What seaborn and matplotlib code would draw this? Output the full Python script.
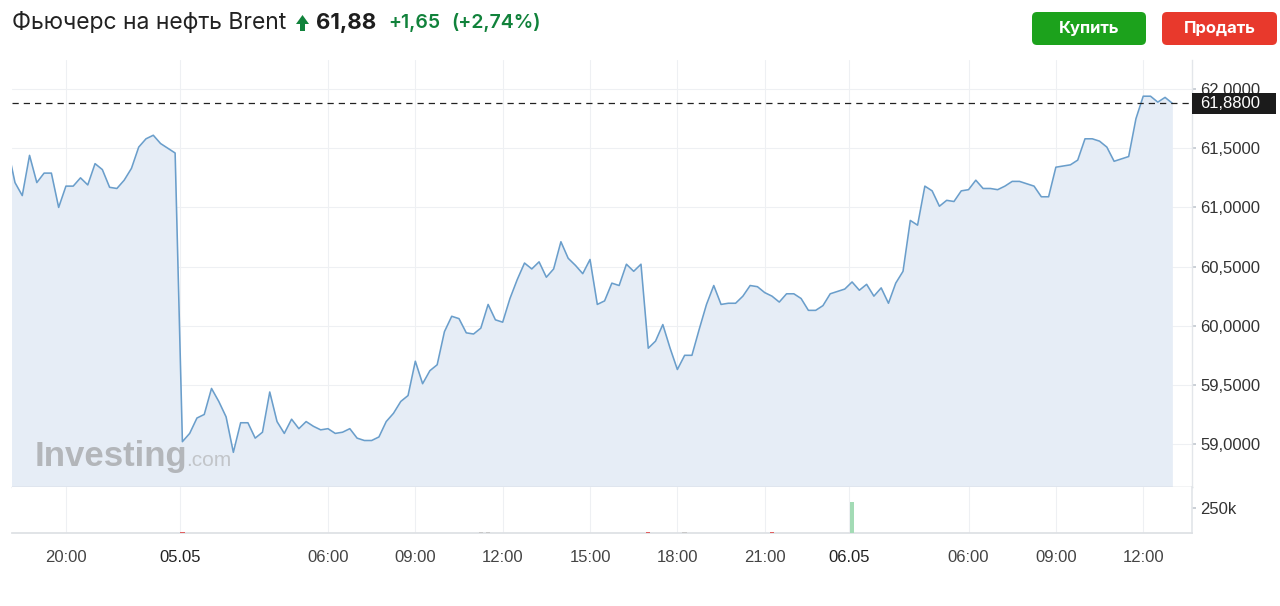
import matplotlib
matplotlib.use("Agg")
import matplotlib.pyplot as plt
import seaborn as sns
import numpy as np
import pandas as pd
from matplotlib.patches import FancyBboxPatch, Rectangle, Polygon
from matplotlib.ticker import FuncFormatter
from matplotlib.transforms import blended_transform_factory

# ---------------- data ----------------
prices = [
    61.50, 61.21, 61.10, 61.44, 61.21, 61.29, 61.29, 61.00, 61.18, 61.18,
    61.25, 61.19, 61.37, 61.32, 61.17, 61.16, 61.23, 61.33, 61.51, 61.58,
    61.61, 61.54, 61.50, 61.46, 59.02, 59.09, 59.22, 59.25, 59.47, 59.36,
    59.23, 58.93, 59.18, 59.18, 59.05, 59.10, 59.44, 59.19, 59.09, 59.21,
    59.13, 59.19, 59.15, 59.12, 59.13, 59.09, 59.10, 59.13, 59.05, 59.03,
    59.03, 59.06, 59.19, 59.26, 59.36, 59.41, 59.70, 59.51, 59.62, 59.67,
    59.95, 60.08, 60.06, 59.94, 59.93, 59.98, 60.18, 60.05, 60.03, 60.23,
    60.39, 60.53, 60.48, 60.54, 60.41, 60.48, 60.71, 60.57, 60.51, 60.44,
    60.56, 60.18, 60.21, 60.36, 60.34, 60.52, 60.46, 60.52, 59.81, 59.87,
    60.01, 59.81, 59.63, 59.75, 59.75, 59.97, 60.18, 60.34, 60.18, 60.19,
    60.19, 60.25, 60.34, 60.33, 60.28, 60.25, 60.20, 60.27, 60.27, 60.23,
    60.13, 60.13, 60.17, 60.27, 60.29, 60.31, 60.37, 60.30, 60.35, 60.25,
    60.32, 60.19, 60.36, 60.46, 60.89, 60.85, 61.18, 61.14, 61.01, 61.06,
    61.05, 61.14, 61.15, 61.23, 61.16, 61.16, 61.15, 61.18, 61.22, 61.22,
    61.20, 61.18, 61.09, 61.09, 61.34, 61.35, 61.36, 61.40, 61.58, 61.58,
    61.56, 61.51, 61.39, 61.41, 61.43, 61.75, 61.94, 61.94, 61.89, 61.93,
    61.88,
]
tick_pos = [8, 23.7, 44, 56, 68, 80, 92, 104, 115.6, 132, 144, 156]
tick_labels = ["20:00", "05.05", "06:00", "09:00", "12:00", "15:00",
               "18:00", "21:00", "06.05", "06:00", "09:00", "12:00"]
date_labels = {"05.05", "06.05"}
y_ticks = [59.0, 59.5, 60.0, 60.5, 61.0, 61.5, 62.0]
vol_idx = [24, 65, 66, 88, 93, 105, 116]
vol_val = [14000, 7000, 7000, 6000, 6000, 7000, 310000]
vol_kind = ["down", "flat", "flat", "down", "flat", "down", "up"]
vol_ticks = [250000]
last_price = 61.88
title = "Фьючерс на нефть Brent"
price_txt = "61,88"
change_txt = "+1,65"
pct_txt = "(+2,74%)"

# ---------------- style ----------------
sns.set_theme(style="white")
plt.rcParams["font.family"] = ["Liberation Sans", "DejaVu Sans"]

W, H = 1280, 606
fig = plt.figure(figsize=(W / 100, H / 100), dpi=100)
fig.patch.set_facecolor("white")

def fx(px):
    return px / W

def fy(py):
    return 1 - py / H

x_left, x_right = 12, 1192
main_top, main_bot, vol_bot = 60, 487, 533
ax = fig.add_axes([fx(x_left), fy(main_bot), fx(x_right) - fx(x_left), (main_bot - main_top) / H])
axv = fig.add_axes([fx(x_left), fy(vol_bot), fx(x_right) - fx(x_left), (vol_bot - main_bot) / H], sharex=ax)

grid_c = "#eef0f3"
spine_c = "#c4c9d0"
line_c = "#6a9ecb"
fill_c = "#e6edf6"
green_c = "#11823b"

y_bot, y_top = 58.637, 62.246
df = pd.DataFrame({"i": np.arange(len(prices)), "price": prices})

ax.fill_between(df["i"], df["price"], y_bot, color=fill_c, lw=0, zorder=1)
sns.lineplot(data=df, x="i", y="price", ax=ax, color=line_c, linewidth=1.15, zorder=3)
ax.axhline(last_price, color="#222222", lw=0.9, ls=(0, (5, 4)), zorder=4)

ax.set_xlim(0.59, 162.7)
ax.set_ylim(y_bot, y_top)
ax.set_yticks(y_ticks)
ax.yaxis.tick_right()
ax.yaxis.set_major_formatter(FuncFormatter(lambda v, p: f"{v:.4f}".replace(".", ",")))
ax.set_xticks(tick_pos)
ax.tick_params(axis="x", which="both", length=0, labelbottom=False)
ax.tick_params(axis="y", length=3, color=spine_c, pad=3, labelsize=12, labelcolor="#333333")
ax.grid(True, color=grid_c, lw=0.8, zorder=0)
ax.set_xlabel("")
ax.set_ylabel("")
for s in ["left", "top"]:
    ax.spines[s].set_visible(False)
ax.spines["bottom"].set_color(spine_c)
ax.spines["right"].set_color("#e3e6ea")
ax.spines["bottom"].set_linewidth(1)
ax.spines["right"].set_linewidth(1)

# current-price label (black box to the right of the plot)
ytr = blended_transform_factory(ax.transAxes, ax.transData)
px_per_unit = (main_bot - main_top) / (y_top - y_bot)
box_h = 21 / px_per_unit
box_w = 84 / (x_right - x_left)
ax.add_patch(Rectangle((1.0, last_price - box_h / 2), box_w, box_h, transform=ytr,
                       fc="#1b1b1b", ec="none", clip_on=False, zorder=10))
ax.text(1.0 + 8 / (x_right - x_left), last_price, "61,8800", transform=ytr, ha="left", va="center",
        color="white", fontsize=12, zorder=11, clip_on=False)

# volume panel
kind_col = {"up": "#a3dbb5", "down": "#e06060", "flat": "#c8c8c8"}
axv.bar(vol_idx, vol_val, width=0.6, color=[kind_col[k] for k in vol_kind], lw=0, zorder=3)
axv.set_ylim(0, 460000)
axv.set_yticks(vol_ticks)
axv.yaxis.tick_right()
axv.yaxis.set_major_formatter(FuncFormatter(lambda v, p: f"{int(v/1000)}k"))
axv.set_xticks(tick_pos)
axv.set_xticklabels(tick_labels)
for lab in axv.get_xticklabels():
    lab.set_color("#222222" if lab.get_text() in date_labels else "#444444")
axv.tick_params(axis="x", length=7, color=grid_c, pad=5, labelsize=12)
axv.tick_params(axis="y", length=3, color=spine_c, pad=3, labelsize=12, labelcolor="#333333")
axv.grid(True, axis="x", color=grid_c, lw=0.8, zorder=0)
for s in ["left", "top"]:
    axv.spines[s].set_visible(False)
axv.spines["bottom"].set_color("#dde0e4")
axv.spines["right"].set_color("#e3e6ea")

# watermark
wm = fig.text(fx(35), fy(466), "Investing", fontsize=25, fontweight="bold",
              color="#b3b6ba", family=["Liberation Sans", "DejaVu Sans"], va="baseline", zorder=5)
fig.canvas.draw()
bb = wm.get_window_extent()
fig.text(bb.x1 / W - 0.0015, fy(466), ".com", fontsize=15, color="#c2c5c9",
         family=["Liberation Sans", "DejaVu Sans"], va="baseline")

# header
hdr_font = ["Inter", "DejaVu Sans"]
fig.text(fx(12), fy(23), title, fontsize=16.5, color="#222222", va="center", family=hdr_font)
arrow = Polygon([(296 / 100, (H - 24) / 100), (302.5 / 100, (H - 15) / 100), (309 / 100, (H - 24) / 100),
                 (305 / 100, (H - 24) / 100), (305 / 100, (H - 31) / 100), (300 / 100, (H - 31) / 100),
                 (300 / 100, (H - 24) / 100)], closed=True, transform=fig.dpi_scale_trans,
                fc=green_c, ec="none")
fig.add_artist(arrow)
fig.text(fx(316), fy(23), price_txt, fontsize=16, fontweight="bold", color="#1e1e1e",
         va="center", family=hdr_font)
fig.text(fx(388), fy(23), change_txt, fontsize=14, fontweight="semibold", color=green_c,
         va="center", family=hdr_font)
fig.text(fx(451), fy(23), pct_txt, fontsize=14, fontweight="semibold", color=green_c,
         va="center", family=hdr_font)

# buttons
def button(x0, x1, y0, y1, color, label):
    box = FancyBboxPatch((x0 / 100, (H - y1) / 100), (x1 - x0) / 100, (y1 - y0) / 100,
                         boxstyle="round,pad=0,rounding_size=0.05",
                         transform=fig.dpi_scale_trans, fc=color, ec="none")
    fig.add_artist(box)
    fig.text(fx((x0 + x1) / 2), fy((y0 + y1) / 2), label, ha="center", va="center",
             color="white", fontsize=12, fontweight="bold", family=hdr_font)

button(1032, 1146, 12, 45, "#1ca21c", "Купить")
button(1162, 1277, 12, 45, "#e8392c", "Продать")

fig.savefig("out.png", dpi=100, facecolor="white")
